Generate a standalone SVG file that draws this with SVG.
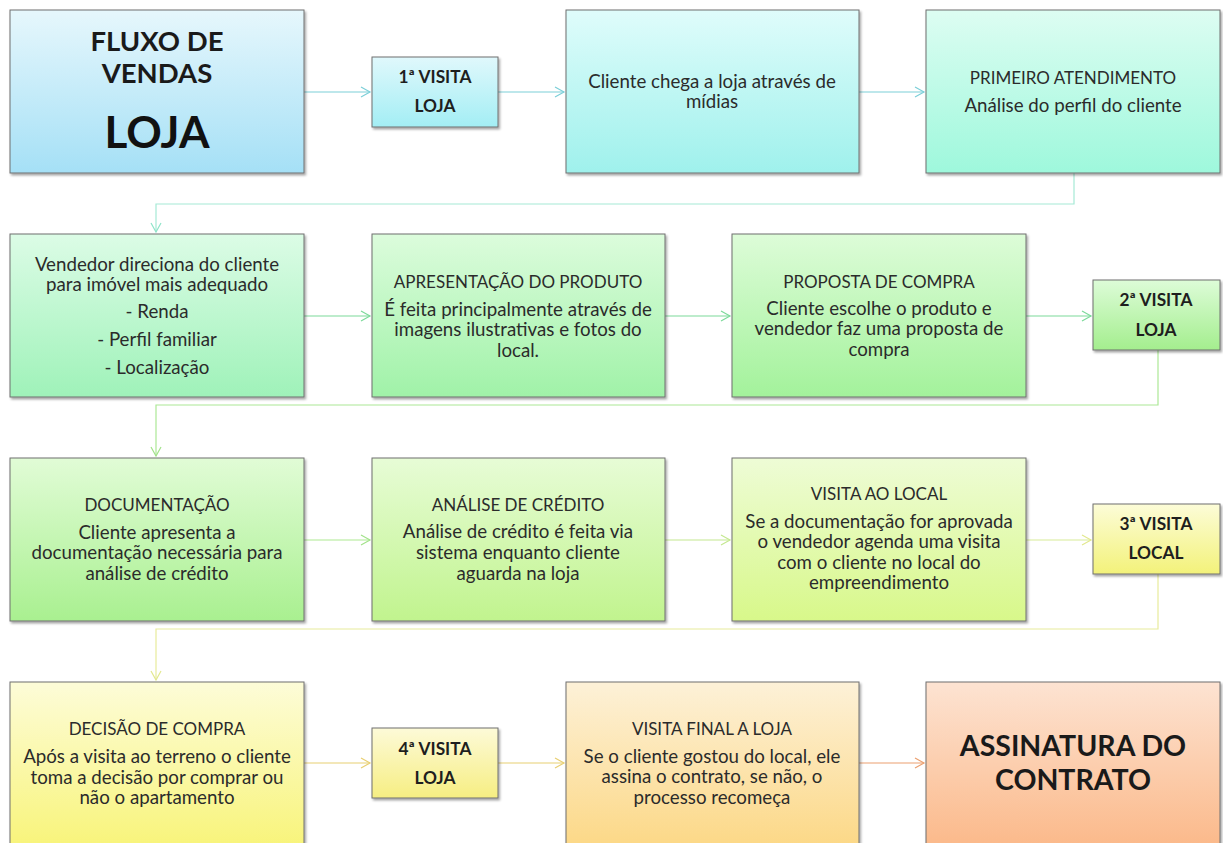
<svg xmlns="http://www.w3.org/2000/svg" width="1223" height="843" viewBox="0 0 1223 843">
<style>
.box{stroke:#6f6f6f;stroke-width:1;filter:url(#sh)}
.t{font-family:Lato,"Open Sans","DejaVu Sans",sans-serif;text-anchor:middle;fill:#2b2b2b}
.b{font-size:18.7px}
.h{font-size:17px}
.k{font-size:17.3px;font-weight:bold;fill:#1e1e1e}
.c{fill:none;stroke-width:1.2}
</style>
<defs>
<filter id="sh" x="-5%" y="-5%" width="112%" height="115%">
<feDropShadow dx="1.5" dy="2" stdDeviation="1.2" flood-color="#000" flood-opacity="0.35"/>
</filter>
<linearGradient id="g1" x1="0" y1="0" x2="0" y2="1"><stop offset="0" stop-color="#e6f7fc"/><stop offset="1" stop-color="#a5e0f6"/></linearGradient>
<linearGradient id="g2" x1="0" y1="0" x2="0" y2="1"><stop offset="0" stop-color="#e0f8fc"/><stop offset="1" stop-color="#a3eef4"/></linearGradient>
<linearGradient id="g3" x1="0" y1="0" x2="0" y2="1"><stop offset="0" stop-color="#dffcfb"/><stop offset="1" stop-color="#9ff1ec"/></linearGradient>
<linearGradient id="g4" x1="0" y1="0" x2="0" y2="1"><stop offset="0" stop-color="#ddfdf2"/><stop offset="1" stop-color="#9ef8dc"/></linearGradient>
<linearGradient id="g5" x1="0" y1="0" x2="0" y2="1"><stop offset="0" stop-color="#dcfce6"/><stop offset="1" stop-color="#9ff2b9"/></linearGradient>
<linearGradient id="g6" x1="0" y1="0" x2="0" y2="1"><stop offset="0" stop-color="#dcfcdc"/><stop offset="1" stop-color="#a0f2a8"/></linearGradient>
<linearGradient id="g7" x1="0" y1="0" x2="0" y2="1"><stop offset="0" stop-color="#ddfcd8"/><stop offset="1" stop-color="#a3f29b"/></linearGradient>
<linearGradient id="g8" x1="0" y1="0" x2="0" y2="1"><stop offset="0" stop-color="#ddfcd8"/><stop offset="1" stop-color="#a4ee8e"/></linearGradient>
<linearGradient id="g9" x1="0" y1="0" x2="0" y2="1"><stop offset="0" stop-color="#e1fcd6"/><stop offset="1" stop-color="#a9f090"/></linearGradient>
<linearGradient id="g10" x1="0" y1="0" x2="0" y2="1"><stop offset="0" stop-color="#e7fcd6"/><stop offset="1" stop-color="#c1f48e"/></linearGradient>
<linearGradient id="g11" x1="0" y1="0" x2="0" y2="1"><stop offset="0" stop-color="#eefcd6"/><stop offset="1" stop-color="#d8f88a"/></linearGradient>
<linearGradient id="g12" x1="0" y1="0" x2="0" y2="1"><stop offset="0" stop-color="#fcfcd8"/><stop offset="1" stop-color="#f3f27a"/></linearGradient>
<linearGradient id="g13" x1="0" y1="0" x2="0" y2="1"><stop offset="0" stop-color="#fdfcd8"/><stop offset="1" stop-color="#f8f47a"/></linearGradient>
<linearGradient id="g14" x1="0" y1="0" x2="0" y2="1"><stop offset="0" stop-color="#fdfad8"/><stop offset="1" stop-color="#f6ee82"/></linearGradient>
<linearGradient id="g15" x1="0" y1="0" x2="0" y2="1"><stop offset="0" stop-color="#fdf1d8"/><stop offset="1" stop-color="#fcd886"/></linearGradient>
<linearGradient id="g16" x1="0" y1="0" x2="0" y2="1"><stop offset="0" stop-color="#fde3d2"/><stop offset="1" stop-color="#fbb98a"/></linearGradient>
<marker id="m1" markerUnits="userSpaceOnUse" markerWidth="12" markerHeight="12" refX="10" refY="6" orient="auto"><path d="M1,1 L10,6 L1,11" fill="none" stroke="#7ccfd8" stroke-width="1.2"/></marker>
<marker id="m2" markerUnits="userSpaceOnUse" markerWidth="12" markerHeight="12" refX="10" refY="6" orient="auto"><path d="M1,1 L10,6 L1,11" fill="none" stroke="#8ee4c8" stroke-width="1.2"/></marker>
<marker id="m3" markerUnits="userSpaceOnUse" markerWidth="12" markerHeight="12" refX="10" refY="6" orient="auto"><path d="M1,1 L10,6 L1,11" fill="none" stroke="#7cda9a" stroke-width="1.2"/></marker>
<marker id="m4" markerUnits="userSpaceOnUse" markerWidth="12" markerHeight="12" refX="10" refY="6" orient="auto"><path d="M1,1 L10,6 L1,11" fill="none" stroke="#a2e28a" stroke-width="1.2"/></marker>
<marker id="m5" markerUnits="userSpaceOnUse" markerWidth="12" markerHeight="12" refX="10" refY="6" orient="auto"><path d="M1,1 L10,6 L1,11" fill="none" stroke="#c4e890" stroke-width="1.2"/></marker>
<marker id="m6" markerUnits="userSpaceOnUse" markerWidth="12" markerHeight="12" refX="10" refY="6" orient="auto"><path d="M1,1 L10,6 L1,11" fill="none" stroke="#e2e88e" stroke-width="1.2"/></marker>
<marker id="m7" markerUnits="userSpaceOnUse" markerWidth="12" markerHeight="12" refX="10" refY="6" orient="auto"><path d="M1,1 L10,6 L1,11" fill="none" stroke="#e8cf72" stroke-width="1.2"/></marker>
<marker id="m8" markerUnits="userSpaceOnUse" markerWidth="12" markerHeight="12" refX="10" refY="6" orient="auto"><path d="M1,1 L10,6 L1,11" fill="none" stroke="#eba070" stroke-width="1.2"/></marker>
</defs>
<rect width="1223" height="843" fill="#ffffff"/>

<g id="connectors">
<path class="c" stroke="#7ccfd8" d="M304,92 H370" marker-end="url(#m1)"/>
<path class="c" stroke="#7ccfd8" d="M498,92 H564" marker-end="url(#m1)"/>
<path class="c" stroke="#7ccfd8" d="M859,92 H924" marker-end="url(#m1)"/>
<path class="c" stroke="#a6ead6" d="M1074,173 V204 H156 V232" marker-end="url(#m2)"/>
<path class="c" stroke="#7cda9a" d="M304,316 H370" marker-end="url(#m3)"/>
<path class="c" stroke="#7cda9a" d="M665,316 H730" marker-end="url(#m3)"/>
<path class="c" stroke="#7cda9a" d="M1026,316 H1091" marker-end="url(#m3)"/>
<path class="c" stroke="#ace896" d="M1158,350 V405 H156 V456" marker-end="url(#m4)"/>
<path class="c" stroke="#aeea92" d="M304,540 H370" marker-end="url(#m4)"/>
<path class="c" stroke="#c4e890" d="M665,540 H730" marker-end="url(#m5)"/>
<path class="c" stroke="#d8ec98" d="M1026,540 H1091" marker-end="url(#m6)"/>
<path class="c" stroke="#e8ec9c" d="M1158,574 V629 H156 V680" marker-end="url(#m6)"/>
<path class="c" stroke="#e8cf72" d="M304,763 H370" marker-end="url(#m7)"/>
<path class="c" stroke="#e8cf72" d="M498,763 H564" marker-end="url(#m7)"/>
<path class="c" stroke="#eba070" d="M859,763 H924" marker-end="url(#m8)"/>
</g>

<g id="titulo">
<rect class="box" x="10" y="10" width="294" height="163" fill="url(#g1)"/>
<text class="t" x="157" y="51" style="font-size:27.5px;font-weight:bold;fill:#1a1a1a">FLUXO DE</text>
<text class="t" x="157" y="83" style="font-size:27.5px;font-weight:bold;fill:#1a1a1a">VENDAS</text>
<text class="t" x="157" y="148" style="font-size:44px;font-weight:bold;fill:#111">LOJA</text>
</g>

<g id="visita1">
<rect class="box" x="372" y="57" width="126" height="70" fill="url(#g2)"/>
<text class="t k" x="435" y="83">1ª VISITA</text>
<text class="t k" x="435" y="112">LOJA</text>
</g>

<g id="cliente-chega">
<rect class="box" x="566" y="10" width="293" height="163" fill="url(#g3)"/>
<text class="t b" x="712" y="88">Cliente chega a loja através de</text>
<text class="t b" x="712" y="108">mídias</text>
</g>

<g id="primeiro-atendimento">
<rect class="box" x="926" y="10" width="294" height="163" fill="url(#g4)"/>
<text class="t h" x="1073" y="84">PRIMEIRO ATENDIMENTO</text>
<text class="t b" x="1073" y="112">Análise do perfil do cliente</text>
</g>

<g id="vendedor">
<rect class="box" x="10" y="234" width="294" height="163" fill="url(#g5)"/>
<text class="t b" x="157" y="271">Vendedor direciona do cliente</text>
<text class="t b" x="157" y="291">para imóvel mais adequado</text>
<text class="t b" x="157" y="318">- Renda</text>
<text class="t b" x="157" y="346">- Perfil familiar</text>
<text class="t b" x="157" y="374">- Localização</text>
</g>

<g id="apresentacao">
<rect class="box" x="372" y="234" width="293" height="163" fill="url(#g6)"/>
<text class="t h" x="518" y="288">APRESENTAÇÃO DO PRODUTO</text>
<text class="t b" x="518" y="316">É feita principalmente através de</text>
<text class="t b" x="518" y="336">imagens ilustrativas e fotos do</text>
<text class="t b" x="518" y="357">local.</text>
</g>

<g id="proposta">
<rect class="box" x="732" y="234" width="294" height="163" fill="url(#g7)"/>
<text class="t h" x="879" y="288">PROPOSTA DE COMPRA</text>
<text class="t b" x="879" y="315">Cliente escolhe o produto e</text>
<text class="t b" x="879" y="335">vendedor faz uma proposta de</text>
<text class="t b" x="879" y="356">compra</text>
</g>

<g id="visita2">
<rect class="box" x="1093" y="280" width="127" height="70" fill="url(#g8)"/>
<text class="t k" x="1156" y="306">2ª VISITA</text>
<text class="t k" x="1156" y="336">LOJA</text>
</g>

<g id="documentacao">
<rect class="box" x="10" y="458" width="294" height="163" fill="url(#g9)"/>
<text class="t h" x="157" y="511">DOCUMENTAÇÃO</text>
<text class="t b" x="157" y="539">Cliente apresenta a</text>
<text class="t b" x="157" y="559">documentação necessária para</text>
<text class="t b" x="157" y="580">análise de crédito</text>
</g>

<g id="analise">
<rect class="box" x="372" y="458" width="293" height="163" fill="url(#g10)"/>
<text class="t h" x="518" y="511">ANÁLISE DE CRÉDITO</text>
<text class="t b" x="518" y="538">Análise de crédito é feita via</text>
<text class="t b" x="518" y="559">sistema enquanto cliente</text>
<text class="t b" x="518" y="580">aguarda na loja</text>
</g>

<g id="visita-local">
<rect class="box" x="732" y="458" width="294" height="163" fill="url(#g11)"/>
<text class="t h" x="879" y="500">VISITA AO LOCAL</text>
<text class="t b" x="879" y="528">Se a documentação for aprovada</text>
<text class="t b" x="879" y="548">o vendedor agenda uma visita</text>
<text class="t b" x="879" y="569">com o cliente no local do</text>
<text class="t b" x="879" y="589">empreendimento</text>
</g>

<g id="visita3">
<rect class="box" x="1093" y="504" width="127" height="70" fill="url(#g12)"/>
<text class="t k" x="1156" y="530">3ª VISITA</text>
<text class="t k" x="1156" y="559">LOCAL</text>
</g>

<g id="decisao">
<rect class="box" x="10" y="682" width="294" height="165" fill="url(#g13)"/>
<text class="t h" x="157" y="735">DECISÃO DE COMPRA</text>
<text class="t b" x="157" y="763">Após a visita ao terreno o cliente</text>
<text class="t b" x="157" y="784">toma a decisão por comprar ou</text>
<text class="t b" x="157" y="804">não o apartamento</text>
</g>

<g id="visita4">
<rect class="box" x="372" y="728" width="126" height="70" fill="url(#g14)"/>
<text class="t k" x="435" y="755">4ª VISITA</text>
<text class="t k" x="435" y="784">LOJA</text>
</g>

<g id="visita-final">
<rect class="box" x="566" y="682" width="293" height="165" fill="url(#g15)"/>
<text class="t h" x="712" y="735">VISITA FINAL A LOJA</text>
<text class="t b" x="712" y="763">Se o cliente gostou do local, ele</text>
<text class="t b" x="712" y="783">assina o contrato, se não, o</text>
<text class="t b" x="712" y="804">processo recomeça</text>
</g>

<g id="assinatura">
<rect class="box" x="926" y="682" width="294" height="165" fill="url(#g16)"/>
<text class="t" x="1073" y="756" style="font-size:28.5px;font-weight:bold;fill:#1a1a1a">ASSINATURA DO</text>
<text class="t" x="1073" y="790" style="font-size:28.5px;font-weight:bold;fill:#1a1a1a">CONTRATO</text>
</g>
</svg>
